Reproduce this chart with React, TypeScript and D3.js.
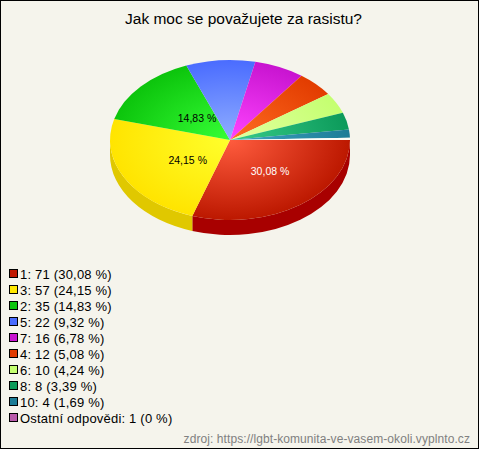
import React from 'react';
import * as d3 from 'd3';

const categories = ['1', '3', '2', '5', '7', '4', '6', '8', '10', 'Ostatní odpovědi'];
const counts = [71, 57, 35, 22, 16, 12, 10, 8, 4, 1];
const percentLabels = ['30,08 %', '24,15 %', '14,83 %', '9,32 %', '6,78 %', '5,08 %', '4,24 %', '3,39 %', '1,69 %', '0 %'];
const swatchColors = ['#c01800', '#ffe800', '#0cc40c', '#4a6cff', '#c814d0', '#e23c00', '#c4ff70', '#0c9a5a', '#1c7c96', '#b95bab'];
const innerColors = ['#ff5c3e', '#ffff2c', '#36ff36', '#90aeff', '#ff44ff', '#ff6c22', '#e2ffa0', '#38cc8a', '#40a4c4', '#ffffff'];
const outerColors = ['#bc1800', '#ffe400', '#0cc40c', '#4a6cff', '#c814d0', '#e23c00', '#c4ff70', '#0c9a5a', '#1c7c96', '#fbfbf4'];
const wallColors = ['#a80000', '#e0c800'];

const W = 480;
const H = 450;
const cx = 230;
const cy = 140;
const rx = 120;
const ry = 80;
const depth = 15;

// only the three biggest slices carry a label; how far along the radius it sits
const sliceLabels = [
  { slice: 0, fx: 0.57, fy: 0.48, color: '#fff' },
  { slice: 1, fx: 0.4, fy: 0.53, color: '#000' },
  { slice: 2, fx: 0.37, fy: 0.41, color: '#000' },
];

const pie = d3.pie<number>().sort(null).startAngle(Math.PI / 2).endAngle(Math.PI * 2.5);
const slices = pie(counts);
const arc = d3.arc<d3.PieArcDatum<number>>().innerRadius(0).outerRadius(rx);

// d3 angle (0 at 12 o'clock) to a point on the flattened rim
const rim = (a: number, dy = 0): [number, number] => [
  cx + rx * Math.sin(a),
  cy - ry * Math.cos(a) + dy,
];

// side wall under the rim, only the front half is visible
const wallPath = (a0: number, a1: number) => {
  const end = Math.min(a1, Math.PI * 1.5);
  if (a0 >= end) return '';
  const [x0, y0] = rim(a0);
  const [x1, y1] = rim(end);
  return `M${x0},${y0}A${rx},${ry} 0 0 1 ${x1},${y1}L${x1},${y1 + depth}A${rx},${ry} 0 0 0 ${x0},${y0 + depth}Z`;
};

const legendY = d3.scalePoint<number>().domain(d3.range(categories.length)).range([274, 418]);

const font = '"Liberation Sans", Arial, sans-serif';

export default function App() {
  return (
    <svg
      width={W}
      height={H}
      style={{ position: 'absolute', left: 0, top: 0, fontFamily: font }}
    >
      <defs>
        {slices.map((s, i) => (
          <radialGradient key={i} id={`g${i}`} gradientUnits="userSpaceOnUse" cx={0} cy={0} r={rx}>
            <stop offset="0" stopColor={innerColors[i]} />
            <stop offset="1" stopColor={outerColors[i]} />
          </radialGradient>
        ))}
      </defs>
      <rect x={0.5} y={0.5} width={W - 2} height={H - 2} fill="#f5f4ec" stroke="#000" />
      <text x={243.5} y={24} textAnchor="middle" fontSize={15.5} fill="#000">
        Jak moc se považujete za rasistu?
      </text>

      {wallColors.map((c, i) => (
        <path key={i} d={wallPath(slices[i].startAngle, slices[i].endAngle)} fill={c} />
      ))}

      <g transform={`translate(${cx},${cy}) scale(1,${ry / rx})`}>
        {slices.map((s, i) => (
          <path key={i} d={arc(s) ?? ''} fill={`url(#g${i})`} />
        ))}
      </g>

      {sliceLabels.map(({ slice, fx, fy, color }) => {
        const mid = (slices[slice].startAngle + slices[slice].endAngle) / 2;
        const [x, y] = rim(mid);
        return (
          <text
            key={slice}
            x={cx + (x - cx) * fx}
            y={cy + (y - cy) * fy + 4}
            textAnchor="middle"
            fontSize={10.5}
            fill={color}
          >
            {percentLabels[slice]}
          </text>
        );
      })}

      {categories.map((c, i) => (
        <g key={c} transform={`translate(0,${legendY(i)})`}>
          <rect x={9.5} y={-4.5} width={8} height={8} fill={swatchColors[i]} stroke="#000" />
          <text x={20} y={4.5} fontSize={13} letterSpacing={0.2} fill="#000">
            {`${c}: ${counts[i]} (${percentLabels[i]})`}
          </text>
        </g>
      ))}

      <text x={470} y={443} textAnchor="end" fontSize={12} letterSpacing={0.08} fill="#808080">
        zdroj: https://lgbt-komunita-ve-vasem-okoli.vyplnto.cz
      </text>
    </svg>
  );
}
